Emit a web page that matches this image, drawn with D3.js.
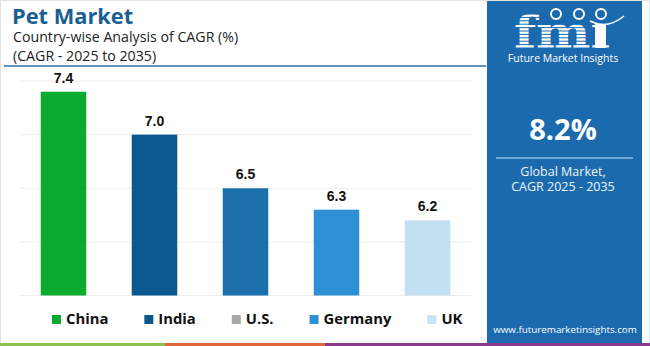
<!DOCTYPE html>
<html>
<head>
<meta charset="utf-8">
<script src="https://cdn.jsdelivr.net/npm/d3@7"></script>
<style>
  body { margin: 0; background: #fff; }
  svg { display: block; }
</style>
</head>
<body>
<div id="chart"></div>
<script>
// chart data
var countries = ["China", "India", "U.S.", "Germany", "UK"];
var cagr = [7.4, 7.0, 6.5, 6.3, 6.2];
var barColors = ["#0aab2e", "#0b578f", "#1b6fab", "#2d90d5", "#c2e0f2"];
var legendColors = ["#0aab2e", "#0b578f", "#a9a9a9", "#2d90d5", "#c8e3f3"];
var gridTicks = [5.5, 6.0, 6.5, 7.0, 7.5];
var globalCagr = "8.2%";

function drawChart() {
    var width = 650, height = 346;
    var panel = "#1b6aae";

    var svg = d3.select("#chart").append("svg")
        .attr("width", width)
        .attr("height", height);

    svg.append("rect")
        .attr("x", 0.5).attr("y", 0.5)
        .attr("width", width - 1).attr("height", height - 1)
        .attr("fill", "#fff")
        .attr("stroke", "#e2e2e2");

    // title block
    svg.append("text")
        .attr("x", 12).attr("y", 24)
        .attr("font-family", "'Open Sans', sans-serif")
        .attr("font-weight", 700)
        .attr("font-size", 21.8)
        .attr("fill", "#1b5e93")
        .text("Pet Market");

    svg.append("text")
        .attr("x", 13).attr("y", 42)
        .attr("font-family", "'Open Sans', sans-serif")
        .attr("font-size", 14.2)
        .attr("fill", "#222")
        .text("Country-wise Analysis of CAGR (%)");

    svg.append("text")
        .attr("x", 13).attr("y", 61)
        .attr("font-family", "'Open Sans', sans-serif")
        .attr("font-size", 14.2)
        .attr("fill", "#222")
        .text("(CAGR - 2025 to 2035)");

    svg.append("line")
        .attr("x1", 4).attr("x2", 486)
        .attr("y1", 66).attr("y2", 66)
        .attr("stroke", "#2f6fa8")
        .attr("stroke-width", 1.5);

    // scales
    var x = d3.scaleBand().domain(countries).range([18, 473])
        .paddingInner(0.5).paddingOuter(0.25);
    var y = d3.scaleLinear().domain([5.5, 7.5]).range([295.5, 81]);

    var grid = svg.append("g").attr("class", "grid");
    grid.selectAll("line")
        .data(gridTicks)
        .enter()
        .append("line")
        .attr("x1", 20).attr("x2", 472)
        .attr("y1", function(d){ return y(d); })
        .attr("y2", function(d){ return y(d); })
        .attr("stroke", "#ececec")
        .attr("stroke-width", 1);

    var data = countries.map(function(c, i){ return {name: c, value: cagr[i], color: barColors[i]}; });

    svg.append("g").attr("class", "bars")
        .selectAll("rect")
        .data(data)
        .enter()
        .append("rect")
        .attr("x", function(d){ return x(d.name); })
        .attr("width", x.bandwidth())
        .attr("y", function(d){ return y(d.value); })
        .attr("height", function(d){ return y(5.5) - y(d.value); })
        .attr("fill", function(d){ return d.color; });

    svg.append("g").attr("class", "labels")
        .selectAll("text")
        .data(data)
        .enter()
        .append("text")
        .attr("x", function(d){ return x(d.name) + x.bandwidth() / 2; })
        .attr("y", function(d){ return y(d.value) - 9; })
        .attr("text-anchor", "middle")
        .attr("font-family", "'Liberation Sans', Arial, sans-serif")
        .attr("font-weight", 700)
        .attr("font-size", 14)
        .attr("fill", "#111")
        .text(function(d){ return d.value.toFixed(1); });

    // legend, items placed one after another with a fixed gap
    var legend = svg.append("g").attr("class", "legend");
    var lx = 52;
    countries.forEach(function(c, i){
        legend.append("rect")
            .attr("x", lx).attr("y", 315)
            .attr("width", 9).attr("height", 9)
            .attr("fill", legendColors[i]);
        var t = legend.append("text")
            .attr("x", lx + 14).attr("y", 324)
            .attr("font-family", "'Open Sans', sans-serif")
            .attr("font-weight", 700)
            .attr("font-size", 14.8)
            .attr("fill", "#111")
            .text(c);
        lx = lx + 14 + t.node().getComputedTextLength() + 36;
    });

    // bottom colour strip
    var strip = [[0, 165, "#8cc152"], [165, 325, "#e2673b"], [325, 650, "#8a3a8f"]];
    svg.append("g").selectAll("rect")
        .data(strip)
        .enter()
        .append("rect")
        .attr("x", function(d){ return d[0]; })
        .attr("width", function(d){ return d[1] - d[0]; })
        .attr("y", 343).attr("height", 3)
        .attr("fill", function(d){ return d[2]; });

    // right panel
    var side = svg.append("g").attr("class", "side");
    side.append("rect")
        .attr("x", 487).attr("y", 1)
        .attr("width", 155).attr("height", 342)
        .attr("fill", panel);

    // fmi logo
    side.append("text")
        .attr("x", 562).attr("y", 48)
        .attr("text-anchor", "middle")
        .attr("font-family", "'DejaVu Serif', serif")
        .attr("font-weight", 700)
        .attr("font-size", 44)
        .attr("textLength", 96)
        .attr("lengthAdjust", "spacingAndGlyphs")
        .attr("fill", "#fff")
        .text("fmi");
    side.append("g").selectAll("line")
        .data(d3.range(14, 50, 3.4))
        .enter()
        .append("line")
        .attr("x1", 508).attr("x2", 616)
        .attr("y1", function(d){ return d; })
        .attr("y2", function(d){ return d; })
        .attr("stroke", panel)
        .attr("stroke-width", 1);
    // globes
    side.append("rect").attr("x", 572).attr("y", 8).attr("width", 42).attr("height", 16).attr("fill", panel);
    side.append("g").selectAll("circle")
        .data([556, 579, 601])
        .enter()
        .append("circle")
        .attr("cx", function(d){ return d; })
        .attr("cy", 14)
        .attr("r", 5)
        .attr("fill", "none")
        .attr("stroke", "#fff")
        .attr("stroke-width", 2);
    side.append("path")
        .attr("d", "M590,21 Q607,30 624,16")
        .attr("fill", "none")
        .attr("stroke", "#fff")
        .attr("stroke-width", 1.5);
    side.append("rect").attr("x", 595).attr("y", 24).attr("width", 11).attr("height", 24).attr("fill", "#fff");

    side.append("text")
        .attr("x", 563).attr("y", 62)
        .attr("text-anchor", "middle")
        .attr("font-family", "'Open Sans', sans-serif")
        .attr("font-size", 10.5)
        .attr("fill", "#fff")
        .text("Future Market Insights");

    side.append("text")
        .attr("x", 563).attr("y", 140)
        .attr("text-anchor", "middle")
        .attr("font-family", "'Open Sans', sans-serif")
        .attr("font-weight", 700)
        .attr("font-size", 29)
        .attr("fill", "#fff")
        .text(globalCagr);

    side.append("line")
        .attr("x1", 496).attr("x2", 633)
        .attr("y1", 158).attr("y2", 158)
        .attr("stroke", "#8cc0ea")
        .attr("stroke-width", 1.5);

    side.append("text")
        .attr("x", 563).attr("y", 176)
        .attr("text-anchor", "middle")
        .attr("font-family", "'Open Sans', sans-serif")
        .attr("font-size", 12.5)
        .attr("fill", "#eef4fa")
        .text("Global Market,");
    side.append("text")
        .attr("x", 563).attr("y", 191)
        .attr("text-anchor", "middle")
        .attr("font-family", "'Open Sans', sans-serif")
        .attr("font-size", 12.5)
        .attr("fill", "#eef4fa")
        .text("CAGR 2025 - 2035");

    side.append("text")
        .attr("x", 565).attr("y", 333)
        .attr("text-anchor", "middle")
        .attr("font-family", "'Open Sans', sans-serif")
        .attr("font-size", 9.8)
        .attr("fill", "#fff")
        .text("www.futuremarketinsights.com");
}

drawChart();
</script>
</body>
</html>
